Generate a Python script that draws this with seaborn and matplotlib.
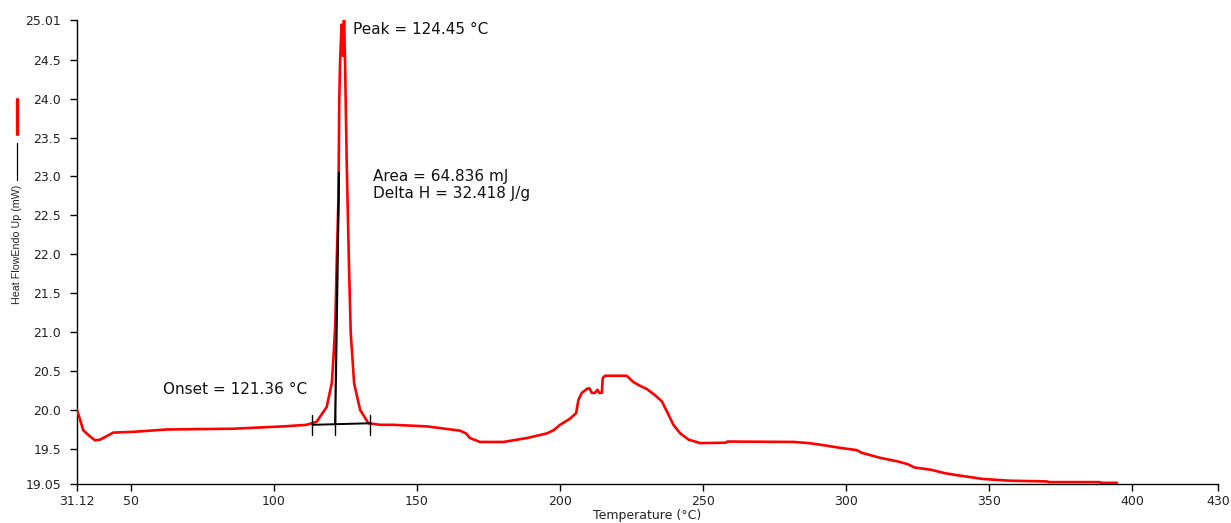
import matplotlib
matplotlib.use("Agg")
import matplotlib.pyplot as plt
from matplotlib.lines import Line2D
import seaborn as sns
import pandas as pd

# DSC heating scan: temperature (°C) and heat flow, endo up (mW)
temp_c = [
    31.12, 33.3, 35.7, 37.4, 39.2, 43.8, 50.8, 62.5, 85.8, 103.3, 111.4,
    114.9, 118.4, 120.2, 120.8, 121.4, 121.9, 122.5, 122.8, 123.1, 123.6,
    124.05, 124.45, 124.8, 125.4, 126.2, 126.8, 128.0, 130.1, 133.0, 137.1,
    141.7, 153.4, 165.0, 167.1, 168.5, 172.0, 180.2, 188.4, 195.4, 197.7,
    200.0, 203.5, 205.6, 206.4, 207.6, 209.3, 210.2, 211.1, 212.2, 213.0,
    213.7, 214.6, 214.9, 215.7, 223.3, 225.6, 228.0, 230.3, 233.2, 235.6,
    237.9, 239.6, 242.0, 244.9, 249.0, 257.9, 258.5, 281.6, 287.0, 291.8,
    297.7, 303.7, 305.5, 312.0, 318.0, 321.5, 323.9, 329.8, 334.6, 340.5,
    344.1, 347.7, 357.2, 370.2, 370.8, 388.7, 389.0, 394.7,
]
heat_flow_mw = [
    20.00, 19.74, 19.66, 19.61, 19.62, 19.71, 19.72, 19.75, 19.76, 19.79, 19.81,
    19.85, 20.04, 20.35, 20.70, 21.10, 21.90, 22.70, 23.99, 24.50, 24.95,
    24.55, 25.01, 24.50, 23.17, 21.84, 20.99, 20.34, 20.00, 19.83, 19.81,
    19.81, 19.79, 19.735, 19.70, 19.64, 19.59, 19.59, 19.64, 19.70, 19.74,
    19.81, 19.89, 19.96, 20.13, 20.22, 20.27, 20.28, 20.22, 20.22, 20.26,
    20.22, 20.22, 20.41, 20.44, 20.44, 20.36, 20.31, 20.27, 20.19, 20.11,
    19.94, 19.81, 19.70, 19.62, 19.575, 19.58, 19.595, 19.59, 19.575, 19.55,
    19.515, 19.485, 19.45, 19.385, 19.34, 19.305, 19.262, 19.232, 19.188, 19.153,
    19.135, 19.115, 19.092, 19.083, 19.074, 19.074, 19.065, 19.065,
]

# Peak analysis results
onset_c = 121.36
peak_c = 124.45
peak_mw = 25.01
area_mj = 64.836
delta_h = 32.418

# Integration baseline and onset tangent
baseline_t = [113.4, 133.7]
baseline_mw = [19.81, 19.83]
tangent_t = [onset_c, 122.7]
tangent_mw = [19.82, 23.05]

x_ticks = [31.12, 50, 100, 150, 200, 250, 300, 350, 400, 430]
x_labels = ["31.12", "50", "100", "150", "200", "250", "300", "350", "400", "430"]
y_ticks = [19.05, 19.5, 20.0, 20.5, 21.0, 21.5, 22.0, 22.5, 23.0, 23.5, 24.0, 24.5, 25.01]
y_labels = ["19.05", "19.5", "20.0", "20.5", "21.0", "21.5", "22.0", "22.5",
            "23.0", "23.5", "24.0", "24.5", "25.01"]

sns.set_theme(style="ticks")
plt.rcParams["font.family"] = ["DejaVu Sans"]

fig = plt.figure(figsize=(12.31, 5.23), dpi=100)
fig.patch.set_facecolor("white")
ax = fig.add_axes([0.0626, 0.0746, 0.9268, 0.8872])
ax.set_facecolor("white")

df = pd.DataFrame({"Temperature": temp_c, "HeatFlow": heat_flow_mw})
sns.lineplot(data=df, x="Temperature", y="HeatFlow", ax=ax, color="#ff0000",
             linewidth=1.9, sort=False, estimator=None, zorder=3)

# baseline with end and onset markers
ax.plot(baseline_t, baseline_mw, color="black", linewidth=1.4, zorder=4)
for t in [baseline_t[0], onset_c, baseline_t[1]]:
    ax.plot([t, t], [19.68, 19.94], color="black", linewidth=1.0, zorder=4)
ax.plot(tangent_t, tangent_mw, color="black", linewidth=1.6, zorder=4)
ax.plot([peak_c, peak_c], [24.75, peak_mw], color="black", linewidth=1.0, zorder=2)

text_kw = dict(fontsize=11, va="center", ha="left", color="#111111")
ax.text(127.7, 24.885, f"Peak = {peak_c:.2f} °C", **text_kw)
ax.text(134.7, 22.998, f"Area = {area_mj:.3f} mJ", **text_kw)
ax.text(134.7, 22.786, f"Delta H = {delta_h:.3f} J/g", **text_kw)
ax.text(61.3, 20.258, f"Onset = {onset_c:.2f} °C", **text_kw)

ax.set_xlim(31.12, 430)
ax.set_ylim(19.05, 25.01)
ax.set_xticks(x_ticks)
ax.set_xticklabels(x_labels)
ax.set_yticks(y_ticks)
ax.set_yticklabels(y_labels)
ax.tick_params(axis="both", direction="out", length=5, width=1.0,
               labelsize=9, colors="black", labelcolor="#222222")
ax.tick_params(axis="y", pad=6.5)
ax.tick_params(axis="x", pad=3)
for side in ["top", "right"]:
    ax.spines[side].set_visible(False)
for side in ["left", "bottom"]:
    ax.spines[side].set_color("black")
    ax.spines[side].set_linewidth(1.0)

ax.set_xlabel("Temperature (°C)", fontsize=9, color="#222222", labelpad=1)
ax.set_ylabel("")

# y-axis title with series keys
fig.text(0.0135, 0.5335, "Heat FlowEndo Up (mW)", rotation=90, ha="center",
         va="center", fontsize=7.7, family=["Liberation Sans", "DejaVu Sans"],
         color="#222222")
fig.add_artist(Line2D([0.0135, 0.0135], [0.656, 0.7266], color="black",
                      linewidth=0.9, transform=fig.transFigure))
fig.add_artist(Line2D([0.0135, 0.0135], [0.7438, 0.8107], color="#ff0000",
                      linewidth=2.4, transform=fig.transFigure))

fig.savefig("out.png", dpi=100, facecolor="white")
